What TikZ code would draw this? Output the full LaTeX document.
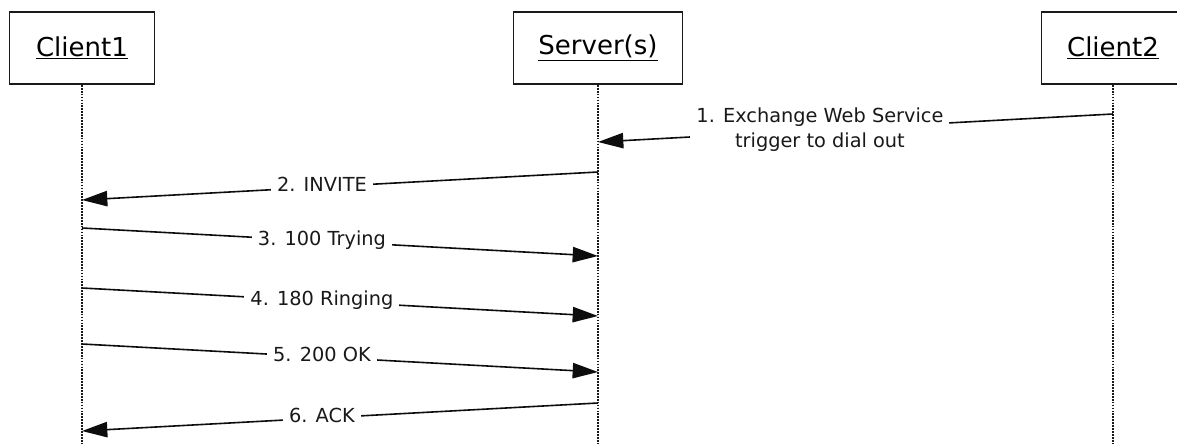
\documentclass[tikz,border=0pt]{standalone}
\usepackage{fontspec}
\setmainfont{DejaVu Sans}
\usetikzlibrary{arrows.meta}
\begin{document}
\begin{tikzpicture}[x=0.75pt,y=-0.75pt,
  actor/.style={draw=black!90,line width=1.4pt,minimum height=54pt,inner sep=0pt,
    font=\fontsize{19.5}{23}\selectfont},
  lifeline/.style={line width=1pt,dash pattern=on 1.3pt off 0.9pt,black!90},
  msg/.style={line width=1.2pt,black!95,-{Triangle[length=19pt,width=11.5pt]}},
  lbl/.style={fill=white,inner xsep=4.5pt,inner ysep=1pt,text=black!90,
    font=\fontsize{14.5}{18.75}\selectfont},
  one/.style={lbl,text height=0.74em,text depth=0.05em}]
\useasboundingbox (0,0) rectangle (1177,443);
% actors
\node[actor,minimum width=108.75pt] (c1) at (82,48) {\underline{Client1}};
\node[actor,minimum width=126.75pt] (srv) at (598,48) {\underline{Server(s)}};
\node[actor,minimum width=107.25pt] (c2) at (1113,48) {\underline{Client2}};
% lifeline ends
\coordinate (c1end) at (82,443);
\coordinate (srvend) at (598,443);
\coordinate (c2end) at (1113,443);
\draw[lifeline] (c1.south) -- (c1end);
\draw[lifeline] (srv.south) -- (srvend);
\draw[lifeline] (c2.south) -- (c2end);
% message points
\coordinate (m1s) at (1113,114); \coordinate (m1e) at (598,142);
\coordinate (m2s) at (598,172);  \coordinate (m2e) at (82,200);
\coordinate (m3s) at (82,228);   \coordinate (m3e) at (598,256);
\coordinate (m4s) at (82,288);   \coordinate (m4e) at (598,316);
\coordinate (m5s) at (82,344);   \coordinate (m5e) at (598,372);
\coordinate (m6s) at (598,403);  \coordinate (m6e) at (82,431);
% messages
\draw[msg] (m1s) -- node[lbl,align=center,pos=0.569] (l1) {1. Exchange Web Service\\trigger to dial out} (m1e);
\draw[msg] (m2s) -- node[one,pos=0.535] (l2) {2. INVITE} (m2e);
\draw[msg] (m3s) -- node[one,pos=0.465] (l3) {3. 100 Trying} (m3e);
\draw[msg] (m4s) -- node[one,pos=0.465] (l4) {4. 180 Ringing} (m4e);
\draw[msg] (m5s) -- node[one,pos=0.465] (l5) {5. 200 OK} (m5e);
\draw[msg] (m6s) -- node[one,pos=0.535] (l6) {6. ACK} (m6e);
\end{tikzpicture}
\end{document}
